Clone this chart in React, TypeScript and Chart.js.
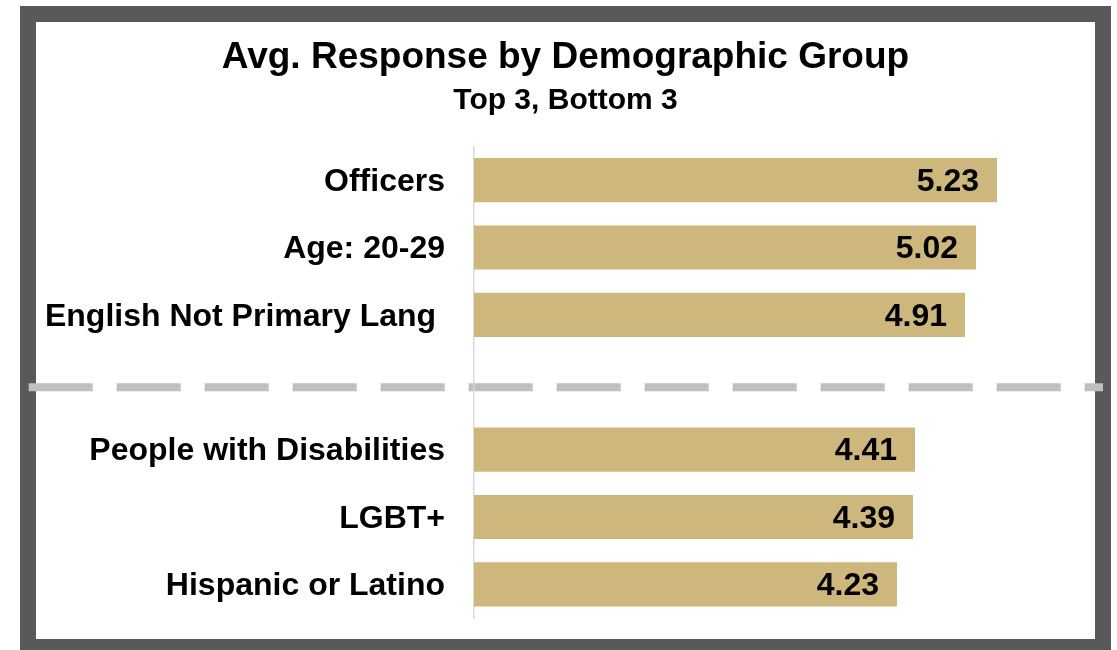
import { useEffect, useRef } from "react";
import { Chart, registerables } from "chart.js";

Chart.register(...registerables);

// Top three and bottom three groups, separated by an empty spacer row.
const categories = [
  "Officers",
  "Age: 20-29",
  "English Not Primary Lang ",
  "",
  "People with Disabilities",
  "LGBT+",
  "Hispanic or Latino",
];
const averages: (number | null)[] = [5.23, 5.02, 4.91, null, 4.41, 4.39, 4.23];
const spacerIndex = 3;
const axisMin = 0;
const axisMax = 6.37;

const titleText = "Avg. Response by Demographic Group";
const subtitleText = "Top 3, Bottom 3";

const FONT = "'Liberation Sans', Arial, Helvetica, sans-serif";
const BAR_COLOR = "#cdb77c";
const FRAME_COLOR = "#595959";
const DIVIDER_COLOR = "#bfbfbf";
const AXIS_COLOR = "#d9d9d9";

const CANVAS_W = 1091;
const CANVAS_H = 644;
const FRAME = 16;
const LABEL_AREA_W = 454;

// White card with a thick dark frame, plus the dashed divider between groups.
const framePlugin = {
  id: "frameAndDivider",
  beforeDraw(chart: Chart) {
    const { ctx, width, height } = chart;
    ctx.save();
    ctx.fillStyle = "#ffffff";
    ctx.fillRect(0, 0, width, height);
    ctx.fillStyle = FRAME_COLOR;
    ctx.fillRect(0, 0, width, FRAME);
    ctx.fillRect(0, 0, FRAME, height);
    ctx.fillRect(width - FRAME, 0, FRAME, height);
    ctx.fillRect(0, height - 11, width, 11);

    const y = chart.scales.y.getPixelForValue(spacerIndex) + 5;
    ctx.strokeStyle = DIVIDER_COLOR;
    ctx.lineWidth = 8;
    ctx.setLineDash([64, 24]);
    ctx.beginPath();
    ctx.moveTo(FRAME / 2 + 0.7, y);
    ctx.lineTo(width - FRAME / 2, y);
    ctx.stroke();
    ctx.restore();
  },
};

// Value printed inside the end of each bar.
const valueLabelPlugin = {
  id: "valueLabels",
  afterDatasetsDraw(chart: Chart) {
    const { ctx } = chart;
    const meta = chart.getDatasetMeta(0);
    ctx.save();
    ctx.font = `bold 32px ${FONT}`;
    ctx.fillStyle = "#000000";
    ctx.textAlign = "right";
    ctx.textBaseline = "middle";
    meta.data.forEach((bar: any, i: number) => {
      const v = averages[i];
      if (v == null) return;
      ctx.fillText(v.toFixed(2), bar.x - 18, bar.y + 2);
    });
    ctx.restore();
  },
};

export default function App() {
  const canvasRef = useRef<HTMLCanvasElement | null>(null);

  useEffect(() => {
    if (!canvasRef.current) return;
    const chart = new Chart(canvasRef.current, {
      type: "bar",
      data: {
        labels: categories,
        datasets: [
          {
            data: averages,
            backgroundColor: BAR_COLOR,
            borderWidth: 0,
            barPercentage: 0.655,
            categoryPercentage: 1,
          },
        ],
      },
      options: {
        indexAxis: "y",
        responsive: false,
        animation: false,
        layout: { padding: { top: FRAME, left: 0, right: 0, bottom: 32 } },
        plugins: {
          legend: { display: false },
          tooltip: { enabled: false },
          title: {
            display: true,
            text: titleText,
            color: "#000000",
            font: { family: FONT, size: 37, weight: "bold", lineHeight: 1.2 },
            padding: { top: 14, bottom: 0 },
          },
          subtitle: {
            display: true,
            text: subtitleText,
            color: "#000000",
            font: { family: FONT, size: 30, weight: "bold", lineHeight: 1.2 },
            padding: { top: 2, bottom: 28 },
          },
        },
        scales: {
          x: {
            display: false,
            min: axisMin,
            max: axisMax,
          },
          y: {
            grid: { display: false, drawTicks: false },
            border: { display: true, color: AXIS_COLOR, width: 1.5 },
            ticks: {
              color: "#000000",
              padding: 29,
              labelOffset: 2,
              font: { family: FONT, size: 32, weight: "bold" },
            },
            afterFit(scale: any) {
              scale.width = LABEL_AREA_W;
              scale.paddingTop = 0;
              scale.paddingBottom = 0;
            },
          },
        },
      },
      plugins: [framePlugin, valueLabelPlugin],
    });
    return () => chart.destroy();
  }, []);

  return (
    <div style={{ position: "absolute", left: 0, top: 0, width: 1117, height: 650, overflow: "hidden", background: "#ffffff" }}>
      <canvas
        ref={canvasRef}
        width={CANVAS_W}
        height={CANVAS_H}
        style={{ position: "absolute", left: 20, top: 6, width: CANVAS_W, height: CANVAS_H, display: "block" }}
      />
    </div>
  );
}
